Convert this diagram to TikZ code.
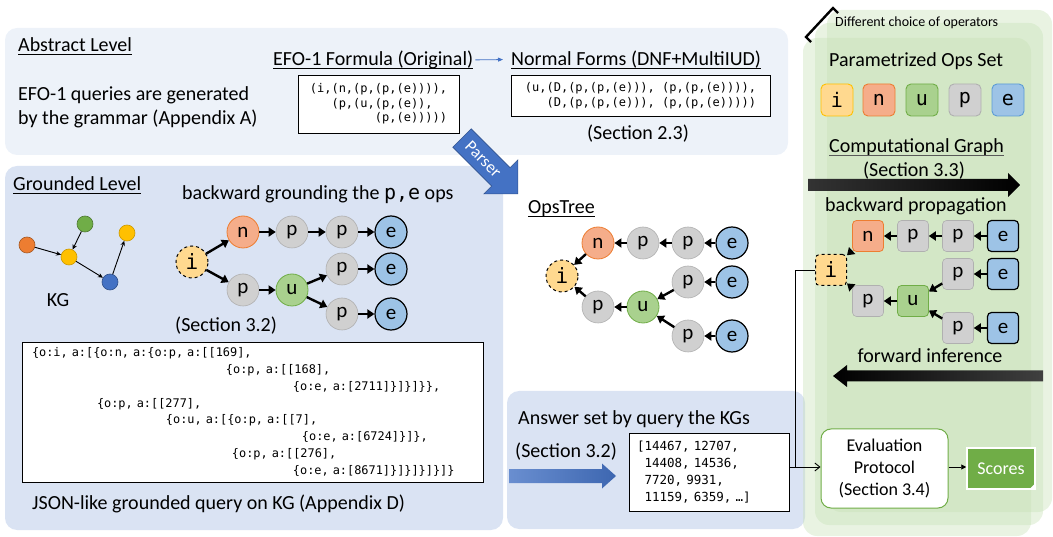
\documentclass[tikz,border=0pt]{standalone}
\usepackage{fontspec}
\setmainfont{Carlito}
\setmonofont{DejaVu Sans Mono}
\usetikzlibrary{arrows.meta,calc}
\definecolor{absbg}{HTML}{EDF2F9}
\definecolor{grbg}{HTML}{DAE3F3}
\definecolor{cardg}{HTML}{C5E0B4}
\definecolor{ifill}{HTML}{FFD98F}
\definecolor{ibord}{HTML}{FFC000}
\definecolor{nfill}{HTML}{F5AD8A}
\definecolor{nbord}{HTML}{ED7D31}
\definecolor{ufill}{HTML}{A9D18E}
\definecolor{ubord}{HTML}{70AD47}
\definecolor{pfill}{HTML}{D0D0D0}
\definecolor{pbord}{HTML}{B0B0B0}
\definecolor{efill}{HTML}{9DC3E6}
\definecolor{ebord}{HTML}{5B9BD5}
\definecolor{pblue}{HTML}{4472C4}
\definecolor{pblued}{HTML}{2F528F}
\definecolor{kgorange}{HTML}{ED7D31}
\definecolor{kggreen}{HTML}{70AD47}
\definecolor{kgyellow}{HTML}{FFC000}
\definecolor{kgblue}{HTML}{4472C4}
\definecolor{evgreen}{HTML}{70AD47}
\definecolor{ulgray}{HTML}{595959}
\newcommand\ind[1]{\hspace*{#1\fontcharwd\font`0}}
\begin{document}
\begin{tikzpicture}[x=1pt,y=-1pt,
  tx/.style={inner sep=0pt,font=\fontsize{20}{24}\selectfont},
  ul/.style={line width=0.8pt},
  circ/.style={circle,minimum size=32pt,inner sep=0pt,font=\fontsize{21}{21}\selectfont},
  ci/.style={circ,fill=ifill,draw=black,dashed,line width=1pt},
  cn/.style={circ,fill=nfill,draw=nbord,line width=0.8pt},
  cp/.style={circ,fill=pfill,draw=pbord,line width=0.6pt},
  cu/.style={circ,fill=ufill,draw=ubord,line width=0.8pt},
  ce/.style={circ,fill=efill,draw=black,line width=1.2pt},
  sq/.style={rectangle,rounded corners=4pt,minimum size=31pt,inner sep=0pt,font=\fontsize{21}{21}\selectfont},
  bi/.style={sq,fill=ifill,draw=black,dashed,line width=1pt},
  bn/.style={sq,fill=nfill,draw=nbord,line width=0.8pt},
  bp/.style={sq,fill=pfill,draw=pbord,line width=0.6pt},
  bu/.style={sq,fill=ufill,draw=ubord,line width=0.8pt},
  be/.style={sq,fill=efill,draw=black,line width=1.2pt},
  opbox/.style={rectangle,rounded corners=5pt,minimum size=32pt,inner sep=0pt,line width=0.9pt,font=\ttfamily\fontsize{20}{20}\selectfont},
  ta/.style={-{Triangle[length=7pt,width=9pt]},line width=2.4pt},
  kga/.style={-{Stealth[length=5pt,width=4.5pt]},line width=0.9pt},
  kgn/.style={circle,minimum size=16pt,inner sep=0pt,line width=0.6pt},
  mono/.style={draw=black,line width=0.9pt,fill=white,align=left},
  conn/.style={line width=0.9pt},
]
\useasboundingbox (0,0) rectangle (1053,537);

% ---------- panels
\fill[absbg,rounded corners=12pt] (5,28) rectangle (788,155);
\fill[grbg,rounded corners=12pt] (5,166) rectangle (503,530);
\fill[grbg,rounded corners=12pt] (507,391) rectangle (805,529);

% ---------- stacked green cards
\fill[cardg,fill opacity=0.38,rounded corners=14pt] (827,10) rectangle (1052,512);
\fill[cardg,fill opacity=0.38,rounded corners=14pt] (815,23) rectangle (1043,525);
\fill[cardg,fill opacity=0.38,rounded corners=14pt] (803,38) rectangle (1031,536);

\draw[line width=2.4pt,line cap=butt] ($(806,37)+(5,5)$) -- (806,37) -- (833,8) -- ($(833,8)+(5,5)$);
\node[inner sep=0pt,anchor=base west,font=\fontsize{14}{16}\selectfont] (diff) at (835,26.5) {Different choice of operators};

% ---------- Abstract level
\node[tx,anchor=base west] (abs) at (18,51.5) {Abstract Level};
\draw[ul] ([yshift=-2.5pt]abs.base west) -- ([yshift=-2.5pt]abs.base east);
\node[tx,anchor=base west] (abst1) at (18,100.5) {EFO-1 queries are generated};
\node[tx,anchor=base west] (abst2) at (18,124.5) {by the grammar (Appendix A)};
\node[tx,anchor=base west] (efo) at (273,65.5) {EFO-1 Formula (Original)};
\draw[ul] ([yshift=-3pt]efo.base west) -- ([yshift=-3pt]efo.base east);
\node[tx,anchor=base west] (nf) at (511,65.5) {Normal Forms (DNF+MultiIUD)};
\draw[ul] ([yshift=-3pt]nf.base west) -- ([yshift=-3pt]nf.base east);
\draw[pblue,line width=0.8pt,-{Triangle[length=5pt,width=4pt]}] ([xshift=2pt]efo.east) -- ([xshift=-8pt]nf.west);
\node[mono,minimum width=161pt,minimum height=58pt,inner sep=0pt,font=\ttfamily\fontsize{12}{14.5}\selectfont] (f1) at (378.5,104)
  {(i,(n,(p,(p,(e)))),\\\ind{3}(p,(u,(p,(e)),\\\ind{9}(p,(e)))))};
\node[mono,minimum width=259pt,minimum height=41pt,inner sep=0pt,font=\ttfamily\fontsize{12}{14.5}\selectfont] (f2) at (640.5,95.5)
  {(u,(D,(p,(p,(e))), (p,(p,(e)))),\\\ind{3}(D,(p,(p,(e))), (p,(p,(e)))))};
\node[tx,anchor=base] (sec23) at (638,139.5) {(Section 2.3)};

% ---------- Grounded level
\node[tx,anchor=base west] (gl) at (13,190.5) {Grounded Level};
\draw[ul] ([yshift=-2.5pt]gl.base west) -- ([yshift=-2.5pt]gl.base east);
\node[tx,anchor=base west] (bg) at (182,199.5) {backward grounding the \texttt{p,e} ops};

\node[kgn,fill=kgorange,draw=kgorange!70!black] (kgo) at (27,245) {};
\node[kgn,fill=kggreen,draw=kggreen!70!black] (kgg) at (85,224) {};
\node[kgn,fill=kgyellow,draw=kgyellow!80!black] (kgy) at (69,257) {};
\node[kgn,fill=kgyellow,draw=kgyellow!80!black] (kgy2) at (127,233) {};
\node[kgn,fill=kgblue,draw=kgblue!70!black] (kgb) at (110,282) {};
\draw[kga] (kgo) -- (kgy);
\draw[kga] (kgg) -- (kgy);
\draw[kga] (kgy) -- (kgb);
\draw[kga] (kgb) -- (kgy2);
\node[tx,anchor=base] (kg) at (58,306.5) {KG};

\node[ci] (gi) at (192,262) {\texttt{i}};
\node[cn] (gn) at (243,232) {n};
\node[cp] (gp1) at (292,232) {p};
\node[cp] (gp2) at (342,232) {p};
\node[ce] (ge1) at (391,232) {e};
\node[cp] (gp3) at (243,290) {p};
\node[cu] (gu) at (292,290) {u};
\node[cp] (gp4) at (342,269) {p};
\node[ce] (ge2) at (391,269) {e};
\node[cp] (gp5) at (342,314) {p};
\node[ce] (ge3) at (391,314) {e};
\draw[ta] (gi) -- (gn);
\draw[ta] (gn) -- (gp1);
\draw[ta] (gp1) -- (gp2);
\draw[ta] (gp2) -- (ge1);
\draw[ta] (gi) -- (gp3);
\draw[ta] (gp3) -- (gu);
\draw[ta] (gu) -- (gp4);
\draw[ta] (gp4) -- (ge2);
\draw[ta] (gu) -- (gp5);
\draw[ta] (gp5) -- (ge3);
\node[tx,anchor=base west] (sec32a) at (175,331.5) {(Section 3.2)};

\node[mono,text width=441pt,inner xsep=10pt,inner ysep=0pt,minimum height=140pt,font=\ttfamily\fontsize{11.9}{16.8}\selectfont] (json) at (252.5,412)
  {\{o:i, a:[\{o:n, a:\{o:p, a:[[169],\\
   \hspace*{194pt}\{o:p, a:[[168],\\
   \hspace*{261pt}\{o:e, a:[2711]\}]\}]\}\},\\
   \hspace*{65pt}\{o:p, a:[[277],\\
   \hspace*{134pt}\{o:u, a:[\{o:p, a:[[7],\\
   \hspace*{270pt}\{o:e, a:[6724]\}]\},\\
   \hspace*{200pt}\{o:p, a:[[276],\\
   \hspace*{261pt}\{o:e, a:[8671]\}]\}]\}]\}]\}};
\node[tx,anchor=base west] (jcap) at (32,509.5) {JSON-like grounded query on KG (Appendix D)};

% ---------- OpsTree
\node[tx,anchor=base west] (ot) at (528,213.5) {OpsTree};
\draw[ul] ([yshift=-3pt]ot.base west) -- ([yshift=-3pt]ot.base east);
\node[ci] (oi) at (562,276) {\texttt{i}};
\node[cn] (on) at (598,243) {n};
\node[cp] (op1) at (643,243) {p};
\node[cp] (op2) at (688,243) {p};
\node[ce] (oe1) at (732,243) {e};
\node[cp] (op3) at (688,282) {p};
\node[ce] (oe2) at (732,282) {e};
\node[cp] (op4) at (598,307) {p};
\node[cu] (ou) at (643,307) {u};
\node[cp] (op5) at (688,336) {p};
\node[ce] (oe3) at (732,336) {e};
\draw[ta] (oe1) -- (op2);
\draw[ta] (op2) -- (op1);
\draw[ta] (op1) -- (on);
\draw[ta] (on) -- (oi);
\draw[ta] (oe2) -- (op3);
\draw[ta] (op3) -- (ou);
\draw[ta] (oe3) -- (op5);
\draw[ta] (op5) -- (ou);
\draw[ta] (ou) -- (op4);
\draw[ta] (op4) -- (oi);

% ---------- Answer set
\node[tx,anchor=base west] (ansl) at (518,424.5) {Answer set by query the KGs};
\node[tx,anchor=base west] (sec32b) at (515,457.5) {(Section 3.2)};
\shade[left color=pblue!80,right color=pblue!90!black] (509,469) -- (602,469) -- (602,463.5) -- (616,476) -- (602,488.5) -- (602,483) -- (509,483) -- cycle;
\node[mono,text width=144pt,inner xsep=8pt,inner ysep=0pt,minimum height=78pt,font=\ttfamily\fontsize{12.5}{17}\selectfont] (ans) at (709,472)
  {[14467, 12707,\\\ind{1}14408, 14536,\\\ind{1}7720, 9931,\\\ind{1}11159, 6359, …]};

% ---------- right: ops set & computational graph
\node[tx,anchor=base west] (pos) at (829,66.5) {Parametrized Ops Set};
\node[opbox,fill=ifill,draw=ibord] (si) at (837,100) {i};
\node[opbox,fill=nfill,draw=nbord] (sn) at (879,100) {n};
\node[opbox,fill=ufill,draw=ubord] (su) at (922,100) {u};
\node[opbox,fill=pfill,draw=pbord] (sp) at (965,100) {p};
\node[opbox,fill=efill,draw=ebord] (se) at (1008,100) {e};

\node[tx,anchor=base west] (cg) at (829,152.5) {Computational Graph};
\draw[ul,ulgray] ([yshift=-2.5pt]cg.base west) -- ([yshift=-2.5pt]cg.base east);
\node[tx,anchor=base] (sec33) at (914,176.5) {(Section 3.3)};
\shade[left color=black!80,right color=black] (808,179) -- (1008,179) -- (1008,173) -- (1020,185) -- (1008,197) -- (1008,191) -- (808,191) -- cycle;
\node[tx,anchor=base west] (bp) at (825,211.5) {backward propagation};

\node[bi] (ci) at (831,270) {\texttt{i}};
\node[bn] (cn) at (868,236) {n};
\node[bp] (cp1) at (913,236) {p};
\node[bp] (cp2) at (958,236) {p};
\node[be] (ce1) at (1003,236) {e};
\node[bp] (cp3) at (958,274) {p};
\node[be] (ce2) at (1003,274) {e};
\node[bp] (cp4) at (868,301) {p};
\node[bu] (cu) at (913,301) {u};
\node[bp] (cp5) at (958,328) {p};
\node[be] (ce3) at (1003,328) {e};
\draw[ta] (ce1) -- (cp2);
\draw[ta] (cp2) -- (cp1);
\draw[ta] (cp1) -- (cn);
\draw[ta] (cn) -- (ci);
\draw[ta] (ce2) -- (cp3);
\draw[ta] (cp3) -- (cu);
\draw[ta] (ce3) -- (cp5);
\draw[ta] (cp5) -- (cu);
\draw[ta] (cu) -- (cp4);
\draw[ta] (cp4) -- (ci);

\node[tx,anchor=base] (fi) at (930,362.5) {forward inference};
\shade[left color=black,right color=black!75] (847,370.5) -- (847,365) -- (833,376) -- (847,387) -- (847,381.5) -- (1043,381.5) -- (1043,370.5) -- cycle;

% ---------- evaluation
\node[draw=evgreen,fill=white,line width=1pt,rounded corners=10pt,minimum width=127pt,minimum height=79pt,align=center,font=\fontsize{18}{22}\selectfont] (eval) at (884.5,468.5) {Evaluation\\Protocol\\(Section 3.4)};
\node[fill=evgreen,draw=white,line width=1.5pt,minimum width=68pt,minimum height=41pt,text=white,font=\fontsize{18}{20}\selectfont] (scores) at (1001,468.5) {Scores};
\fill[white] (scores.south east) -- ++(-7,0) -- ++(7,-7) -- cycle;

\coordinate (jn) at (795,467);
\draw[conn] (ci.west) -| (jn);
\draw[conn] (ans.east |- jn) -- (jn);
\draw[conn,-{Straight Barb[length=5pt,width=8pt]}] (jn) -- (eval.west |- jn);
\draw[conn,-{Triangle[length=5pt,width=5pt]}] (eval.east |- jn) -- (scores.west |- jn);

% ---------- Parser arrow
\begin{scope}[shift={(462,138)},rotate=-45]
\filldraw[fill=pblue,draw=pblued,line width=0.6pt] (0,-13) -- (55,-13) -- (55,-24) -- (79,0) -- (55,24) -- (55,13) -- (0,13) -- cycle;
\node[rotate=-45,text=white,inner sep=0pt,font=\fontsize{17}{17}\selectfont] (parser) at (30,0) {Parser};
\end{scope}
\end{tikzpicture}
\end{document}
